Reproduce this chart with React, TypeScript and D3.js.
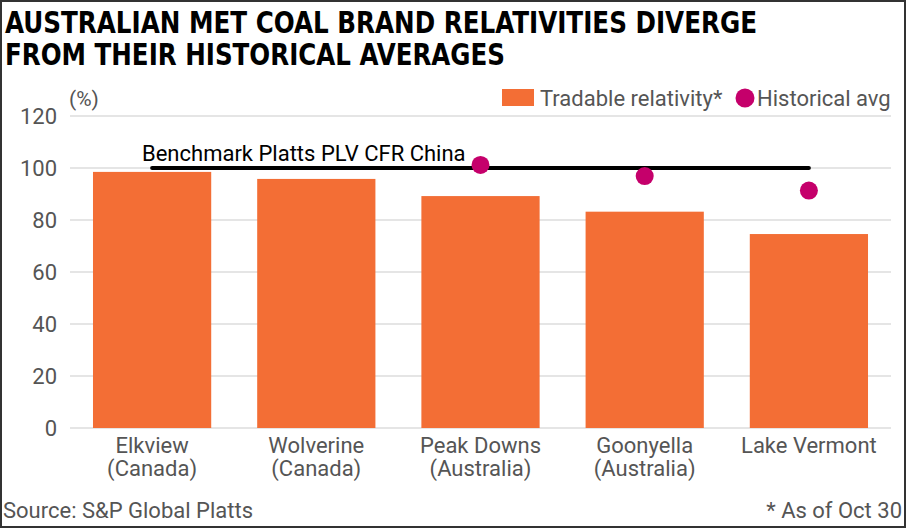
import React from "react";
import * as d3 from "d3";

const categories = ["Elkview|(Canada)", "Wolverine|(Canada)", "Peak Downs|(Australia)", "Goonyella|(Australia)", "Lake Vermont"];
const tradable = [98.5, 95.8, 89.2, 83.2, 74.6];
const historical = [null, null, 101.2, 96.9, 91.3];
const benchmark = 100;
const yTicks = [0, 20, 40, 60, 80, 100, 120];

const W = 906;
const H = 528;
const margin = { top: 116, right: 15, bottom: 100, left: 70 };
const font = "Roboto, 'Noto Sans', sans-serif";
const grey = "#555555";
const orange = "#f36e35";
const magenta = "#c5006b";

const App = () => {
    const x = d3.scaleBand()
        .domain(categories)
        .range([margin.left, W - margin.right])
        .paddingInner(0.28)
        .paddingOuter(0.14);

    const y = d3.scaleLinear()
        .domain([0, 120])
        .range([H - margin.bottom, margin.top]);

    const center = (c: string) => (x(c) ?? 0) + x.bandwidth() / 2;
    const first = categories[0];
    const last = categories[categories.length - 1];

    return (
        <div>
            <style>{`body{margin:0}`}</style>
            <svg width={W} height={H} style={{ display: "block", fontFamily: font }}>
                <rect x={1} y={1} width={W - 2} height={H - 2} fill="#fff" stroke="#333" strokeWidth={2} />

                {/* title */}
                <g fontFamily="'Liberation Sans Narrow', 'DejaVu Sans Condensed', Roboto, sans-serif" fontWeight="bold" fontSize={30} fill="#000">
                    <text x={5} y={33} textLength={752} lengthAdjust="spacingAndGlyphs">AUSTRALIAN MET COAL BRAND RELATIVITIES DIVERGE</text>
                    <text x={5} y={65} textLength={500} lengthAdjust="spacingAndGlyphs">FROM THEIR HISTORICAL AVERAGES</text>
                </g>

                {/* grid + y axis */}
                {yTicks.map(t => (
                    <g key={t}>
                        <line x1={margin.left} x2={W - margin.right} y1={y(t)} y2={y(t)} stroke="#dddddd" strokeWidth={1.5} />
                        <text x={57} y={y(t)} dy="0.36em" textAnchor="end" fontSize={22} fill={grey}>{t}</text>
                    </g>
                ))}
                <text x={69} y={106} fontSize={21} fill={grey}>(%)</text>

                {/* bars */}
                {categories.map((c, i) => (
                    <rect key={c} x={x(c)} y={y(tradable[i])} width={x.bandwidth()} height={y(0) - y(tradable[i])} fill={orange} />
                ))}

                {/* benchmark line */}
                <line x1={center(first)} x2={center(last)} y1={y(benchmark)} y2={y(benchmark)} stroke="#000" strokeWidth={4} strokeLinecap="round" />
                <text x={142} y={161} fontSize={22} fill="#000">Benchmark Platts PLV CFR China</text>

                {/* historical avg dots */}
                {categories.map((c, i) => historical[i] == null ? null : (
                    <circle key={c} cx={center(c)} cy={y(historical[i] as number)} r={9} fill={magenta} />
                ))}

                {/* x labels */}
                {categories.map(c => (
                    <text key={c} x={center(c)} y={453} textAnchor="middle" fontSize={22} fill={grey}>
                        {c.split("|").map((l, j) => (
                            <tspan key={j} x={center(c)} dy={j === 0 ? 0 : 23}>{l}</tspan>
                        ))}
                    </text>
                ))}

                {/* legend */}
                <rect x={502} y={89} width={32} height={17} fill={orange} />
                <text x={540} y={106} fontSize={22} fill={grey}>Tradable relativity*</text>
                <circle cx={745} cy={98} r={9.5} fill={magenta} />
                <text x={757} y={106} fontSize={22} fill={grey}>Historical avg</text>

                {/* footer */}
                <text x={3} y={518} fontSize={22} fill={grey}>Source: S&amp;P Global Platts</text>
                <text x={902} y={518} textAnchor="end" fontSize={22} fill={grey}>* As of Oct 30</text>
            </svg>
        </div>
    );
};

export default App;
